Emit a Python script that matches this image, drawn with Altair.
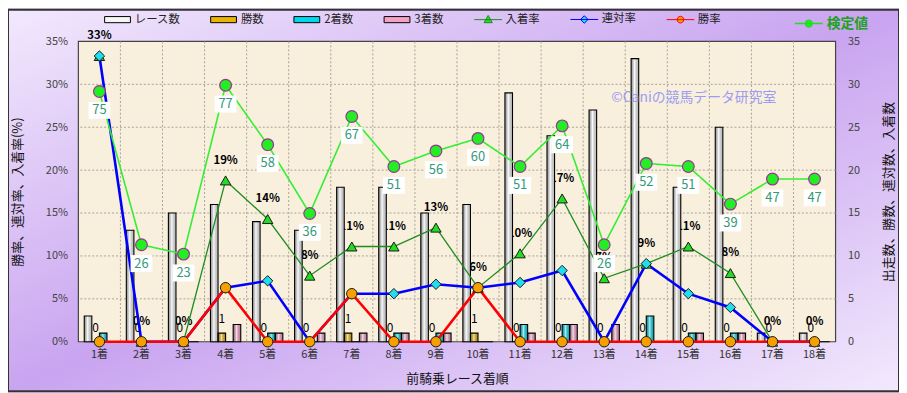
import altair as alt
import pandas as pd

# ---------------- data ----------------
cats = [f"{i}着" for i in range(1, 19)]
races = [3, 13, 15, 16, 14, 13, 18, 18, 15, 16, 29, 24, 27, 33, 18, 25, 1, 1]
wins = [0, 0, 0, 1, 0, 0, 1, 0, 0, 1, 0, 0, 0, 0, 0, 0, 0, 0]
seconds = [1, 0, 0, 0, 1, 0, 0, 1, 1, 0, 2, 2, 0, 3, 1, 1, 0, 0]
thirds = [0, 0, 0, 2, 1, 1, 1, 1, 1, 0, 1, 2, 2, 0, 1, 1, 0, 0]
place_rate = [33.3, 0, 0, 18.8, 14.3, 7.7, 11.1, 11.1, 13.3, 6.3, 10.3, 16.7, 7.4, 9.1, 11.1, 8.0, 0, 0]
rentai_rate = [33.3, 0, 0, 6.3, 7.1, 0, 5.6, 5.6, 6.7, 6.3, 6.9, 8.3, 0, 9.1, 5.6, 4.0, 0, 0]
win_rate = [0, 0, 0, 6.3, 0, 0, 5.6, 0, 0, 6.3, 0, 0, 0, 0, 0, 0, 0, 0]
kentei = [75, 26, 23, 77, 58, 36, 67, 51, 56, 60, 51, 64, 26, 52, 51, 39, 47, 47]

bar_series = ["レース数", "勝数", "2着数", "3着数"]
line_series = ["入着率", "連対率", "勝率"]
all_series = bar_series + line_series
tick_vals = [0, 5, 10, 15, 20, 25, 30, 35]
grid_vals = [5, 10, 15, 20, 25, 30]

bar_colors = ["#f6f6f6", "#e8b400", "#00d8ea", "#f2a2c6"]
line_colors = ["#1e8c1e", "#0000ff", "#ff0000"]
marker_fills = ["#22dd22", "#22ddf0", "#f5a000"]

FONT = "Noto Sans CJK JP"
W, H = 764, 303
STEP = W / len(cats)

bar_df = pd.DataFrame({
    "cat": cats * 4,
    "series": sum([[s] * len(cats) for s in bar_series], []),
    "value": races + wins + seconds + thirds,
})
line_df = pd.DataFrame({
    "cat": cats * 3,
    "series": sum([[s] * len(cats) for s in line_series], []),
    "value": place_rate + rentai_rate + win_rate,
})
main_df = pd.DataFrame({
    "cat": cats, "wins": wins, "place": place_rate, "kentei": kentei,
    "wser": ["勝数"] * len(cats), "kname": ["検定値"] * len(cats),
})
legend_df = pd.DataFrame({"series": all_series})
one = pd.DataFrame({"a": [0]})
grid_df = pd.DataFrame({"g": grid_vals})
vgrid_df = pd.DataFrame({"cat": cats[1:]})

# ---------------- scales / axes ----------------
xscale = alt.Scale(domain=cats, paddingInner=0.28, paddingOuter=0.14)
xaxis = alt.Axis(title="前騎乗レース着順", labelAngle=0, ticks=False, domain=False, grid=False,
                 labelPadding=7, labelFontSize=11, labelColor="#333333", labelFont=FONT,
                 titleFont=FONT, titleFontSize=13, titleFontWeight="normal", titleColor="#111111",
                 titleY=37, titleBaseline="middle", zindex=1)


def X():
    return alt.X("cat:N", sort=cats, scale=xscale, axis=xaxis)


def ys():
    return alt.Scale(domain=[0, 35], nice=False, zero=True)


xoff = alt.XOffset("series:N", sort=bar_series,
                   scale=alt.Scale(domain=bar_series, paddingInner=0, paddingOuter=0))

left_axis = alt.Axis(orient="left", values=tick_vals, labelExpr="datum.value + '%'", ticks=False,
                     domain=False, grid=False, labelPadding=11, labelColor="#444444", labelFontSize=11,
                     labelFont=FONT, title="勝率、連対率、入着率(%)", titleAngle=270, titleX=-61,
                     titleY=H / 2, titleAlign="center", titleBaseline="middle", titleFontSize=13,
                     titleFontWeight="normal", titleFont=FONT, titleColor="#111111", zindex=1)
right_axis = alt.Axis(orient="right", values=tick_vals, ticks=False, domain=False, grid=False,
                      labelPadding=12, labelColor="#444444", labelFontSize=11, labelFont=FONT,
                      title="出走数、勝数、連対数、入着数", titleAngle=270, titleX=53, titleY=H / 2,
                      titleAlign="center", titleBaseline="middle", titleFontSize=13,
                      titleFontWeight="normal", titleFont=FONT, titleColor="#111111", zindex=1)

# legend symbol paths
RECT = "M-0.93,-0.22H0.93V0.22H-0.93Z"
TRI = "M-1,0H1M0,-0.3L0.3,0.22H-0.3Z"
DIA = "M-1,0H1M0,-0.27L0.27,0L0,0.27L-0.27,0Z"
CIRC = "M-1,0H1M-0.24,0A0.24,0.24 0 1,0 0.24,0A0.24,0.24 0 1,0 -0.24,0Z"

leg = alt.Legend(title=None, orient="none", legendX=25, legendY=-37, direction="horizontal", columns=7,
                 columnPadding=28, symbolSize=784, labelFontSize=11.5, labelColor="#222222",
                 labelFont=FONT, labelOffset=3, padding=0, symbolOpacity=1, zindex=1)

legend_k = alt.Legend(title=None, orient="none", legendX=722, legendY=-33, symbolSize=784,
                      symbolType=CIRC, symbolFillColor="#22ee22", symbolStrokeColor="#22dd22",
                      symbolStrokeWidth=1.5, labelFontSize=14, labelFontWeight="bold",
                      labelColor="#22a022", labelFont=FONT, labelOffset=3, padding=0, zindex=1)

# ---- L1: background, frame, grid, labels under bars, legend carrier
bg = alt.Chart(one).mark_rect(
    color=alt.Gradient(gradient="linear", x1=0, y1=0, x2=1, y2=1,
                       stops=[alt.GradientStop(color="#f2e9fd", offset=0),
                              alt.GradientStop(color="#c9a4f0", offset=0.5),
                              alt.GradientStop(color="#f2e9fd", offset=1)]),
    stroke="#333333", strokeWidth=2,
).encode(x=alt.value(-71), x2=alt.value(W + 64), y=alt.value(-32), y2=alt.value(H + 50))

frame = alt.Chart(one).mark_rect(color="#f8efdc", stroke="#444444", strokeWidth=1.2).encode(
    x=alt.value(0), x2=alt.value(W), y=alt.value(0), y2=alt.value(H))

hgrid = alt.Chart(grid_df).mark_rule(color="#a8a39a", strokeDash=[2, 2], strokeWidth=1).encode(
    y=alt.Y("g:Q", scale=ys(), axis=None))
vgrid = alt.Chart(vgrid_df).mark_rule(color="#a8a39a", strokeDash=[2, 2], strokeWidth=1,
                                      xOffset=-STEP / 2).encode(x=X())

pct_text = alt.Chart(main_df).transform_calculate(
    lbl="format(datum.place, '.0f') + '%'"
).mark_text(dy=-20, fontWeight="bold", fontSize=11.5, color="#000000", font=FONT).encode(
    x=X(), y=alt.Y("place:Q", scale=ys(), axis=None), text="lbl:N")

cnt_text = alt.Chart(main_df).mark_text(dy=-14, fontSize=12, color="#000000", font=FONT).encode(
    x=X(),
    xOffset=alt.XOffset("wser:N", scale=alt.Scale(domain=bar_series, paddingInner=0, paddingOuter=0)),
    y=alt.Y("wins:Q", scale=ys(), axis=None), text="wins:Q")

legend_carrier = alt.Chart(legend_df).mark_point(opacity=0, size=1).encode(
    fill=alt.Fill("series:N", scale=alt.Scale(domain=all_series, range=bar_colors + marker_fills), legend=leg),
    stroke=alt.Stroke("series:N", scale=alt.Scale(domain=all_series, range=["#000000"] * 4 + line_colors),
                      legend=leg),
    shape=alt.Shape("series:N", scale=alt.Scale(domain=all_series, range=[RECT] * 4 + [TRI, DIA, CIRC]),
                    legend=leg),
    strokeWidth=alt.StrokeWidth("series:N", scale=alt.Scale(domain=all_series, range=[1, 1, 1, 1, 1.2, 2, 2]),
                                legend=leg),
)

L1 = alt.layer(bg, frame, hgrid, vgrid, pct_text, cnt_text, legend_carrier)

# ---- L2: bars (right axis)
bars = alt.Chart(bar_df).mark_bar(strokeWidth=0).encode(
    x=X(), xOffset=xoff, y=alt.Y("value:Q", scale=ys(), axis=right_axis),
    fill=alt.Fill("series:N", scale=alt.Scale(domain=bar_series, range=bar_colors), legend=None))
shine = alt.Chart(bar_df).mark_bar(
    color=alt.Gradient(gradient="linear", x1=0, y1=0, x2=1, y2=0,
                       stops=[alt.GradientStop(color="rgba(0,0,0,0.38)", offset=0),
                              alt.GradientStop(color="rgba(255,255,255,0.6)", offset=0.45),
                              alt.GradientStop(color="rgba(0,0,0,0.18)", offset=1)]),
    stroke="#000000", strokeWidth=1.1,
).encode(x=X(), xOffset=xoff, y=alt.Y("value:Q", scale=ys(), axis=right_axis))
L2 = alt.layer(bars, shine)

# ---- L3: rate lines (left axis)
line_layers = []
for s, c, w in zip(line_series, line_colors, [1.3, 2.6, 2.6]):
    line_layers.append(
        alt.Chart(line_df).transform_filter(alt.datum.series == s).mark_line(color=c, strokeWidth=w).encode(
            x=X(), y=alt.Y("value:Q", scale=ys(), axis=left_axis)))
pts = alt.Chart(line_df).mark_point(filled=True, stroke="#1a1a1a", strokeWidth=1, opacity=1, size=110).encode(
    x=X(), y=alt.Y("value:Q", scale=ys(), axis=left_axis),
    fill=alt.Fill("series:N", scale=alt.Scale(domain=line_series, range=marker_fills), legend=None),
    shape=alt.Shape("series:N", scale=alt.Scale(domain=line_series,
                                                range=["triangle-up", "diamond", "circle"]), legend=None))
L3 = alt.layer(*line_layers, pts)

# ---- L4: 検定値 (hidden scale)
ks = alt.Scale(domain=[-5, 91], nice=False, zero=False)
kline = alt.Chart(main_df).mark_line(color="#33ee33", strokeWidth=1.6).encode(
    x=X(), y=alt.Y("kentei:Q", scale=ks, axis=None),
    strokeDash=alt.StrokeDash("kname:N", scale=alt.Scale(domain=["検定値"], range=[[1, 0]]), legend=legend_k))
kpts = alt.Chart(main_df).mark_point(filled=True, fill="#22ee22", stroke="#993399", strokeWidth=1.2,
                                     size=140, shape="circle", opacity=1).encode(
    x=X(), y=alt.Y("kentei:Q", scale=ks, axis=None))
kbox = alt.Chart(main_df).mark_point(filled=True, color="#ffffff", opacity=1, size=484,
                                     shape="M-1,-0.78H1V0.78H-1Z", yOffset=19, strokeWidth=0).encode(
    x=X(), y=alt.Y("kentei:Q", scale=ks, axis=None))
ktext = alt.Chart(main_df).mark_text(dy=19, fontSize=13, color="#33997a", font=FONT).encode(
    x=X(), y=alt.Y("kentei:Q", scale=ks, axis=None), text="kentei:Q")
wm = alt.Chart(one).mark_text(text="©Caniの競馬データ研究室", fontSize=14, color="#9c9cf2",
                              font=FONT).encode(x=alt.value(621), y=alt.value(57))
L4 = alt.layer(kline, kpts, kbox, ktext, wm)

chart = alt.layer(L1, L2, L3, L4).resolve_scale(
    y="independent", fill="independent", stroke="independent", shape="independent",
    strokeWidth="independent", strokeDash="independent",
).properties(
    width=W, height=H,
    padding={"left": 71, "top": 32, "right": 64, "bottom": 50},
    autosize=alt.AutoSizeParams(type="none"),
    background="#e2d2f8",
).configure_view(strokeWidth=0)

chart.save("out.html", embed_options={"renderer": "svg", "actions": False})
